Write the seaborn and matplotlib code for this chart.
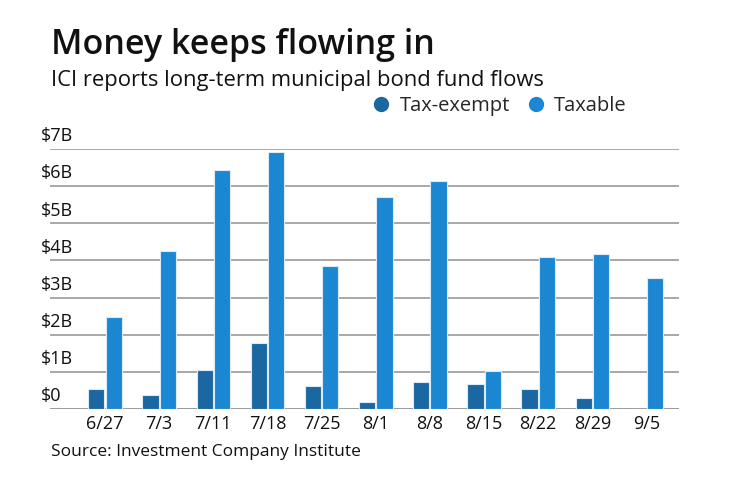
import pandas as pd
import seaborn as sns
import matplotlib.pyplot as plt
from matplotlib.lines import Line2D

# %% data (billions of dollars)
weeks = ["6/27", "7/3", "7/11", "7/18", "7/25", "8/1", "8/8", "8/15", "8/22", "8/29", "9/5"]
tax_exempt = [0.54, 0.37, 1.04, 1.78, 0.61, 0.18, 0.73, 0.67, 0.54, 0.29, 0.0]
taxable = [2.47, 4.25, 6.44, 6.91, 3.84, 5.70, 6.15, 1.02, 4.08, 4.16, 3.54]
yticks = [0, 1, 2, 3, 4, 5, 6, 7]
ylabels = ["$0", "$1B", "$2B", "$3B", "$4B", "$5B", "$6B", "$7B"]

df = pd.DataFrame({"week": weeks * 2,
                   "flow": tax_exempt + taxable,
                   "fund": ["Tax-exempt"] * len(weeks) + ["Taxable"] * len(weeks)})

colors = {"Tax-exempt": "#1a67a1", "Taxable": "#1b87d3"}

# %% plot
sns.set_theme(style="white")
plt.rcParams["font.family"] = ["Open Sans", "DejaVu Sans"]

fig = plt.figure(figsize=(7.4, 4.82), dpi=100)
ax = fig.add_axes([50 / 740, 1 - 409 / 482, 629 / 740, 260 / 482])

sns.barplot(data=df, x="week", y="flow", hue="fund", palette=colors, saturation=1,
            width=0.64, gap=0.06, edgecolor="#dcebf7", linewidth=0.8,
            legend=False, ax=ax, zorder=3)

ax.set_xlim(-1.016, 10.6)
ax.set_ylim(0, 7)
ax.set_yticks(yticks)
ax.set_yticklabels([])
ax.yaxis.grid(True, color="#9a9a9a", linewidth=1.2, zorder=0)
ax.set_axisbelow(True)
sns.despine(ax=ax, left=True, top=True, right=True, bottom=True)
ax.axhline(0, color="#9a9a9a", linewidth=1.2, zorder=1)
ax.set_xlabel("")
ax.set_ylabel("")
ax.tick_params(axis="x", length=0, pad=4, labelsize=13, labelcolor="#111111")
ax.tick_params(axis="y", length=0)

for val, lab in zip(yticks, ylabels):
    ax.text(-0.0143, val + 0.1, lab, transform=ax.get_yaxis_transform(),
            ha="left", va="bottom", fontsize=13, color="#111111")

# titles
fig.text(51 / 740, 1 - 54 / 482, "Money keeps flowing in", fontsize=24.5,
         fontweight="semibold", color="#111111", ha="left", va="baseline")
fig.text(51 / 740, 1 - 86 / 482, "ICI reports long-term municipal bond fund flows",
         fontsize=15.8, color="#111111", ha="left", va="baseline")
fig.text(51 / 740, 1 - 456 / 482, "Source: Investment Company Institute",
         fontsize=12.5, color="#111111", ha="left", va="baseline")

handles = [Line2D([], [], marker="o", linestyle="", markersize=10,
                  color=colors[k], label=k) for k in colors]
fig.legend(handles=handles, loc="center", bbox_to_anchor=(499 / 740, 1 - 106 / 482),
           ncol=2, frameon=False, fontsize=14.5, handletextpad=0.4,
           columnspacing=0.8, handlelength=1.0)

fig.savefig("out.png", dpi=100)
